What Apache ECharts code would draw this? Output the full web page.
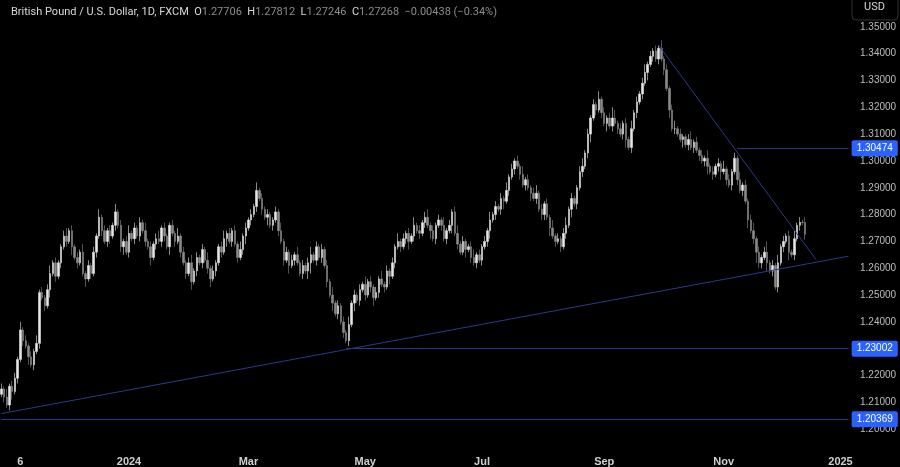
<!DOCTYPE html>
<html lang="en">
<head>
<meta charset="UTF-8" />
<title>GBPUSD</title>
<style>
  html, body { margin: 0; padding: 0; background: #000; }
  #chart { width: 900px; height: 467px; }
</style>
</head>
<body>
<div id="chart"></div>
<script src="https://cdn.jsdelivr.net/npm/echarts@6/dist/echarts.min.js"></script>
<script>
// daily closes, first candle 2023-10-26
const closes = [
  1.215,1.212,1.209,1.216,1.214,1.219, 1.226,1.237,1.233, 1.231,1.227,1.224,1.229,
  1.232,1.251,1.249,1.246, 1.252,1.258,1.262,1.257, 1.262,1.268,1.272,1.270,1.274,
  1.268,1.264,1.262,1.266,1.258, 1.256,1.261,1.258,1.266, 1.272,1.279,1.274,1.270,
  1.274,1.272,1.276,1.281,1.276,1.268,1.270, 1.266,1.273,1.271,1.275,1.272,
  1.277,1.274,1.270,1.268,1.264,1.269,1.271, 1.270,1.275,1.272,1.268,1.276,1.273,1.270,
  1.272,1.266,1.262,1.258,1.262,1.255, 1.259,1.264,1.262,1.267,1.263,1.260,
  1.256,1.259,1.262,1.268,1.266,1.271, 1.273,1.270,1.274,1.269,1.264,1.267,
  1.272,1.275,1.278,1.280,1.283,1.289, 1.286,1.282,1.279,1.280,1.276,1.278,
  1.281,1.274,1.270,1.263,1.266,1.261, 1.263,1.265,1.262,1.258,1.261,1.259,
  1.262,1.265,1.263,1.268,1.264,1.267, 1.261,1.255,1.250,1.247,1.243,1.246,
  1.240,1.236,1.233,1.239,1.247,1.250, 1.248,1.252,1.254,1.250,1.255,1.253,
  1.249,1.251,1.256,1.254,1.253,1.259, 1.257,1.262,1.268,1.270,1.268,1.271,
  1.273,1.270,1.272,1.276,1.274,1.273, 1.277,1.279,1.276,1.274,1.271,1.276,
  1.278,1.276,1.271,1.274,1.276,1.281, 1.273,1.269,1.266,1.270,1.267,1.268,
  1.264,1.262,1.265,1.263,1.268,1.270, 1.274,1.278,1.280,1.283,1.282,1.286,
  1.285,1.289,1.294,1.297,1.300,1.298, 1.295,1.291,1.293,1.290,1.288,1.286,
  1.288,1.282,1.280,1.284,1.279,1.275, 1.272,1.270,1.271,1.268,1.273,1.276,
  1.282,1.286,1.284,1.290,1.296,1.298, 1.303,1.310,1.316,1.321,1.319,1.323,
  1.318,1.314,1.316,1.313,1.316,1.314, 1.312,1.310,1.314,1.308,1.305,1.312,
  1.318,1.322,1.325,1.329,1.333,1.336, 1.339,1.341,1.338,1.342,1.338,1.334,
  1.327,1.319,1.312,1.312,1.310,1.308, 1.309,1.306,1.308,1.305,1.307,1.304,
  1.302,1.300,1.301,1.298,1.296,1.295, 1.298,1.299,1.296,1.297,1.293,1.291,
  1.296,1.301,1.293,1.289,1.291,1.285, 1.278,1.274,1.271,1.266,1.262,1.264,
  1.266,1.262,1.259,1.261,1.253,1.262, 1.268,1.270,1.272,1.266,1.265,1.271,
  1.276,1.2771,1.27706,1.27268
];
// wick lengths in units of 0.001
const upperWicks = "2131221312 1213121231 2112312121 3121213121 2131212312 1213121231 2112131212 3121213121 1231212131 2121312121 1213121213 1212312121 2131212131 2121312121 3121213121 2131212312 1213121231 2112312121 3121213121 2131212312 1213121231 2112312121 3121243121 2131212312 1213121231 2112312121 3121213121 2131212312 1241213121 2131212312";
const lowerWicks = "1212312121 3121212131 2121213121 1312121212 3121231212 1212131212 2131212121 3121212312 1213121212 3121212131 2121213121 1213412121 2131212121 3121212312 1213121212 3121212131 2121213121 1312121212 3121231212 1212131212 2131212121 3121212312 1213121212 3121212131 2121213121 1312121212 3121231212 1212131242 2131212121 3121212312";
const priceTicks = [1.20,1.21,1.22,1.23,1.24,1.25,1.26,1.27,1.28,1.29,1.30,1.31,1.32,1.33,1.34,1.35];
const levels = [1.30474, 1.23002, 1.20369];
const lastPrice = 1.27268;

const months = ["Jan","Feb","Mar","Apr","May","Jun","Jul","Aug","Sep","Oct","Nov","Dec"];
const dates = [];
let d = new Date(Date.UTC(2023, 9, 26));
while (dates.length < 313) {
  const wd = d.getUTCDay();
  if (wd !== 0 && wd !== 6) dates.push(new Date(d));
  d.setUTCDate(d.getUTCDate() + 1);
}
const cats = dates.map(x => x.toISOString().slice(0, 10));
const labelAt = {};
for (let i = 1; i < dates.length; i++) {
  const m = dates[i].getUTCMonth();
  if (m !== dates[i - 1].getUTCMonth() && m % 2 === 0 && !(m === 10 && dates[i].getUTCFullYear() === 2023)) {
    labelAt[i] = m === 0 ? String(dates[i].getUTCFullYear()) : months[m];
  }
}
labelAt[cats.indexOf("2023-11-06")] = "6";

const up = upperWicks.replace(/ /g, "");
const lo = lowerWicks.replace(/ /g, "");
const ohlc = closes.map((c, i) => {
  const o = i === 0 ? 1.213 : closes[i - 1];
  const h = Math.max(o, c) + Number(up[i] || 1) * 0.001;
  const l = Math.min(o, c) - Number(lo[i] || 1) * 0.001;
  return [o, c, l, h];
});

const lineColor = "#2b3990";
const chart = echarts.init(document.getElementById("chart"));
const option = {
  backgroundColor: "#000",
  animation: false,
  title: {
    text: "British Pound / U.S. Dollar, 1D, FXCM  {k|O}{v|1.27706}  {k|H}{v|1.27812}  {k|L}{v|1.27246}  {k|C}{v|1.27268}  {v|−0.00438 (−0.34%)}",
    left: 6, top: 2,
    textStyle: {
      color: "#d8d8d8", fontSize: 11, fontWeight: "normal", fontFamily: "Roboto",
      rich: { k: { color: "#d8d8d8", fontSize: 11 }, v: { color: "#8c8c8c", fontSize: 11 } }
    }
  },
  graphic: [{
    type: "rect", shape: { x: 852, y: -4, width: 46, height: 24, r: 4 },
    style: { fill: "#000", stroke: "#333" }
  }, {
    type: "text", left: 864, top: 2,
    style: { text: "USD", fill: "#d8d8d8", font: "11px Roboto" }
  }],
  grid: { left: 0, right: 50, top: -4.5, bottom: 10 },
  xAxis: {
    type: "category", data: cats, boundaryGap: true,
    axisLine: { show: false }, axisTick: { show: false }, splitLine: { show: false },
    axisLabel: {
      color: "#cfcfcf", fontSize: 11, fontWeight: "bold", margin: 0,
      interval: (i) => labelAt[i] !== undefined,
      formatter: (v, i) => labelAt[i] || ""
    }
  },
  yAxis: {
    type: "value", position: "right", min: 1.19, max: 1.36, interval: 0.01,
    axisLine: { show: false }, axisTick: { show: false }, splitLine: { show: false },
    axisLabel: {
      color: "#bdbdbd", fontSize: 10, margin: 10,
      formatter: v => priceTicks.some(t => Math.abs(t - v) < 1e-6) ? v.toFixed(5) : ""
    }
  },
  series: [{
    type: "candlestick", data: ohlc, barWidth: 2,
    itemStyle: { color: "#e6e6e6", color0: "#8a8a8a", borderColor: "#e6e6e6", borderColor0: "#8a8a8a", borderWidth: 0.6 },
    markLine: {
      symbol: "none", silent: true,
      lineStyle: { color: lineColor, width: 1, type: "solid" },
      label: { show: false },
      data: [
        [{ coord: [0, 1.2058] }, { coord: [312, 1.2645] }],
        [{ coord: [242, 1.3432] }, { coord: [300, 1.2632] }],
        [{ coord: [271, levels[0]] }, { coord: [312, levels[0]],
          label: { show: true, position: "end", distance: 3, formatter: levels[0].toFixed(5), color: "#fff", backgroundColor: "#2962ff", padding: [3, 5], fontSize: 10, borderRadius: 2 } }],
        [{ coord: [127, levels[1]] }, { coord: [312, levels[1]],
          label: { show: true, position: "end", distance: 3, formatter: levels[1].toFixed(5), color: "#fff", backgroundColor: "#2962ff", padding: [3, 5], fontSize: 10, borderRadius: 2 } }],
        [{ coord: [0, levels[2]] }, { coord: [312, levels[2]],
          label: { show: true, position: "end", distance: 3, formatter: levels[2].toFixed(5), color: "#fff", backgroundColor: "#2962ff", padding: [3, 5], fontSize: 10, borderRadius: 2 } }],
        [{ coord: [312, lastPrice], lineStyle: { opacity: 0 } }, { coord: [312, lastPrice], lineStyle: { opacity: 0 },
          label: { show: true, position: "end", distance: 3, formatter: lastPrice.toFixed(5) + "\n11:57:25", color: "#e6e6e6", backgroundColor: "#5d606b", padding: [3, 5], fontSize: 10, lineHeight: 12 } }]
      ]
    }
  }]
};
chart.setOption(option);
</script>
</body>
</html>
